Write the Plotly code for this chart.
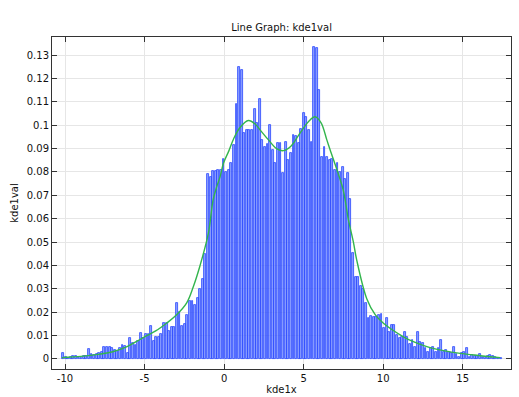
import plotly.graph_objects as go

# Histogram bins (start, width) and bar heights
BIN_START = -10.21
BIN_WIDTH = 0.1628
hist_vals = [
    0.0024, 0.0007, 0.0005, 0.0008, 0.0013, 0.0012, 0.0010, 0.0005, 0.0012, 0.0012,
    0.0043, 0.0022, 0.0015, 0.0020, 0.0025, 0.0030, 0.0053, 0.0052, 0.0053, 0.0045,
    0.0040, 0.0035, 0.0045, 0.0060, 0.0055, 0.0025, 0.0088, 0.0070, 0.0060, 0.0075,
    0.0110, 0.0090, 0.0105, 0.0105, 0.0140, 0.0075, 0.0095, 0.0095, 0.0105, 0.0155,
    0.0155, 0.0120, 0.0135, 0.0135, 0.0240, 0.0200, 0.0140, 0.0150, 0.0190, 0.0250,
    0.0250, 0.0230, 0.0260, 0.0300, 0.0340, 0.0450, 0.0790, 0.0780, 0.0805, 0.0805,
    0.0810, 0.0810, 0.0856, 0.0800, 0.0810, 0.0840, 0.0917, 0.1092, 0.1250, 0.1235,
    0.0967, 0.0980, 0.0980, 0.0980, 0.1070, 0.1010, 0.1110, 0.0937, 0.0905, 0.0920,
    0.1001, 0.0895, 0.0838, 0.0924, 0.0924, 0.0794, 0.0930, 0.0850, 0.0880, 0.0958,
    0.0955, 0.0924, 0.0985, 0.1052, 0.1035, 0.0980, 0.0930, 0.1336, 0.1329, 0.1150,
    0.0865, 0.0905, 0.0865, 0.0850, 0.0855, 0.0810, 0.0837, 0.0800, 0.0822, 0.0770,
    0.0794, 0.0685, 0.0452, 0.0350, 0.0350, 0.0312, 0.0298, 0.0241, 0.0174, 0.0184,
    0.0180, 0.0180, 0.0188, 0.0191, 0.0131, 0.0174, 0.0117, 0.0145, 0.0145, 0.0103,
    0.0088, 0.0095, 0.0117, 0.0095, 0.0063, 0.0081, 0.0053, 0.0117, 0.0074, 0.0067,
    0.0046, 0.0031, 0.0046, 0.0053, 0.0031, 0.0046, 0.0081, 0.0031, 0.0038, 0.0031,
    0.0024, 0.0053, 0.0021, 0.0007, 0.0027, 0.0031, 0.0049, 0.0007, 0.0017, 0.0013,
    0.0013, 0.0021, 0.0010, 0.0010, 0.0014, 0.0017, 0.0013, 0.0007, 0.0004, 0.0006,
]
bin_centers = [BIN_START + (i + 0.5) * BIN_WIDTH for i in range(len(hist_vals))]

# KDE curve points
kde_x = [-10.2, -9.0, -7.8, -7.0, -6.1, -5.5, -5.0, -4.3, -3.6, -3.0, -2.35, -1.93,
         -1.51, -0.99, -0.69, -0.46, -0.25, -0.04, 0.3, 0.59, 1.0, 1.53, 1.95, 2.26,
         2.79, 3.3, 3.73, 4.2, 4.67, 4.99, 5.3, 5.72, 6.1, 6.46, 6.67, 7.19, 7.5,
         7.82, 8.13, 8.34, 8.97, 9.5, 10.02, 11.28, 11.9, 12.75, 13.8, 14.84, 16.0, 17.36]
kde_y = [0.0006, 0.0011, 0.0021, 0.0031, 0.0053, 0.0075, 0.0095, 0.0120, 0.0154, 0.0188,
         0.0240, 0.0310, 0.0400, 0.0537, 0.0680, 0.0737, 0.0780, 0.0837, 0.0890, 0.0940,
         0.0990, 0.1020, 0.1005, 0.0980, 0.0937, 0.0900, 0.0891, 0.0910, 0.0955, 0.0987,
         0.1015, 0.1036, 0.1010, 0.0937, 0.0894, 0.0790, 0.0720, 0.0595, 0.0500, 0.0423,
         0.0258, 0.0190, 0.0153, 0.0095, 0.0074, 0.0053, 0.0036, 0.0024, 0.0015, 0.0006]

x_ticks = [-10, -5, 0, 5, 10, 15]
y_ticks = [0, 0.01, 0.02, 0.03, 0.04, 0.05, 0.06, 0.07, 0.08, 0.09, 0.1, 0.11, 0.12, 0.13]
y_tick_labels = ["0", "0.01", "0.02", "0.03", "0.04", "0.05", "0.06", "0.07", "0.08",
                 "0.09", "0.1", "0.11", "0.12", "0.13"]

FONT = "DejaVu Sans"
TXT = "#111111"

fig = go.Figure()
fig.add_trace(go.Bar(
    x=bin_centers, y=hist_vals, width=BIN_WIDTH * 0.72,
    marker=dict(color="rgba(110,135,255,0.78)", line=dict(color="#2a48ff", width=0.8)),
    showlegend=False, hoverinfo="x+y",
))
fig.add_trace(go.Scatter(
    x=kde_x, y=kde_y, mode="lines", line=dict(color="#33b54d", width=1.4, shape="spline"),
    showlegend=False,
))

axis_common = dict(
    showline=True, linecolor="#333333", linewidth=1, mirror="ticks",
    ticks="inside", ticklen=5, tickcolor="#333333",
    showgrid=True, gridcolor="#e6e6e6", gridwidth=1, zeroline=False,
    tickfont=dict(family=FONT, size=10, color=TXT), automargin=False,
)

fig.update_layout(
    width=519, height=397,
    margin=dict(l=52, r=8, t=37, b=28),
    paper_bgcolor="white", plot_bgcolor="white",
    title=dict(text="Line Graph: kde1val", x=0.5425, xanchor="center", y=0.93, yanchor="middle",
               font=dict(family=FONT, size=10, color=TXT)),
    bargap=0,
    xaxis=dict(range=[-10.82, 18.04], tickvals=x_ticks, ticktext=[str(v) for v in x_ticks],
               title=dict(text="kde1x", standoff=2, font=dict(family=FONT, size=10, color=TXT)),
               **axis_common),
    yaxis=dict(range=[-0.00428, 0.1377], tickvals=y_ticks, ticktext=y_tick_labels,
               title=dict(text="kde1val", standoff=6, font=dict(family=FONT, size=10, color=TXT)),
               **axis_common),
)

fig.write_html("out.html")
